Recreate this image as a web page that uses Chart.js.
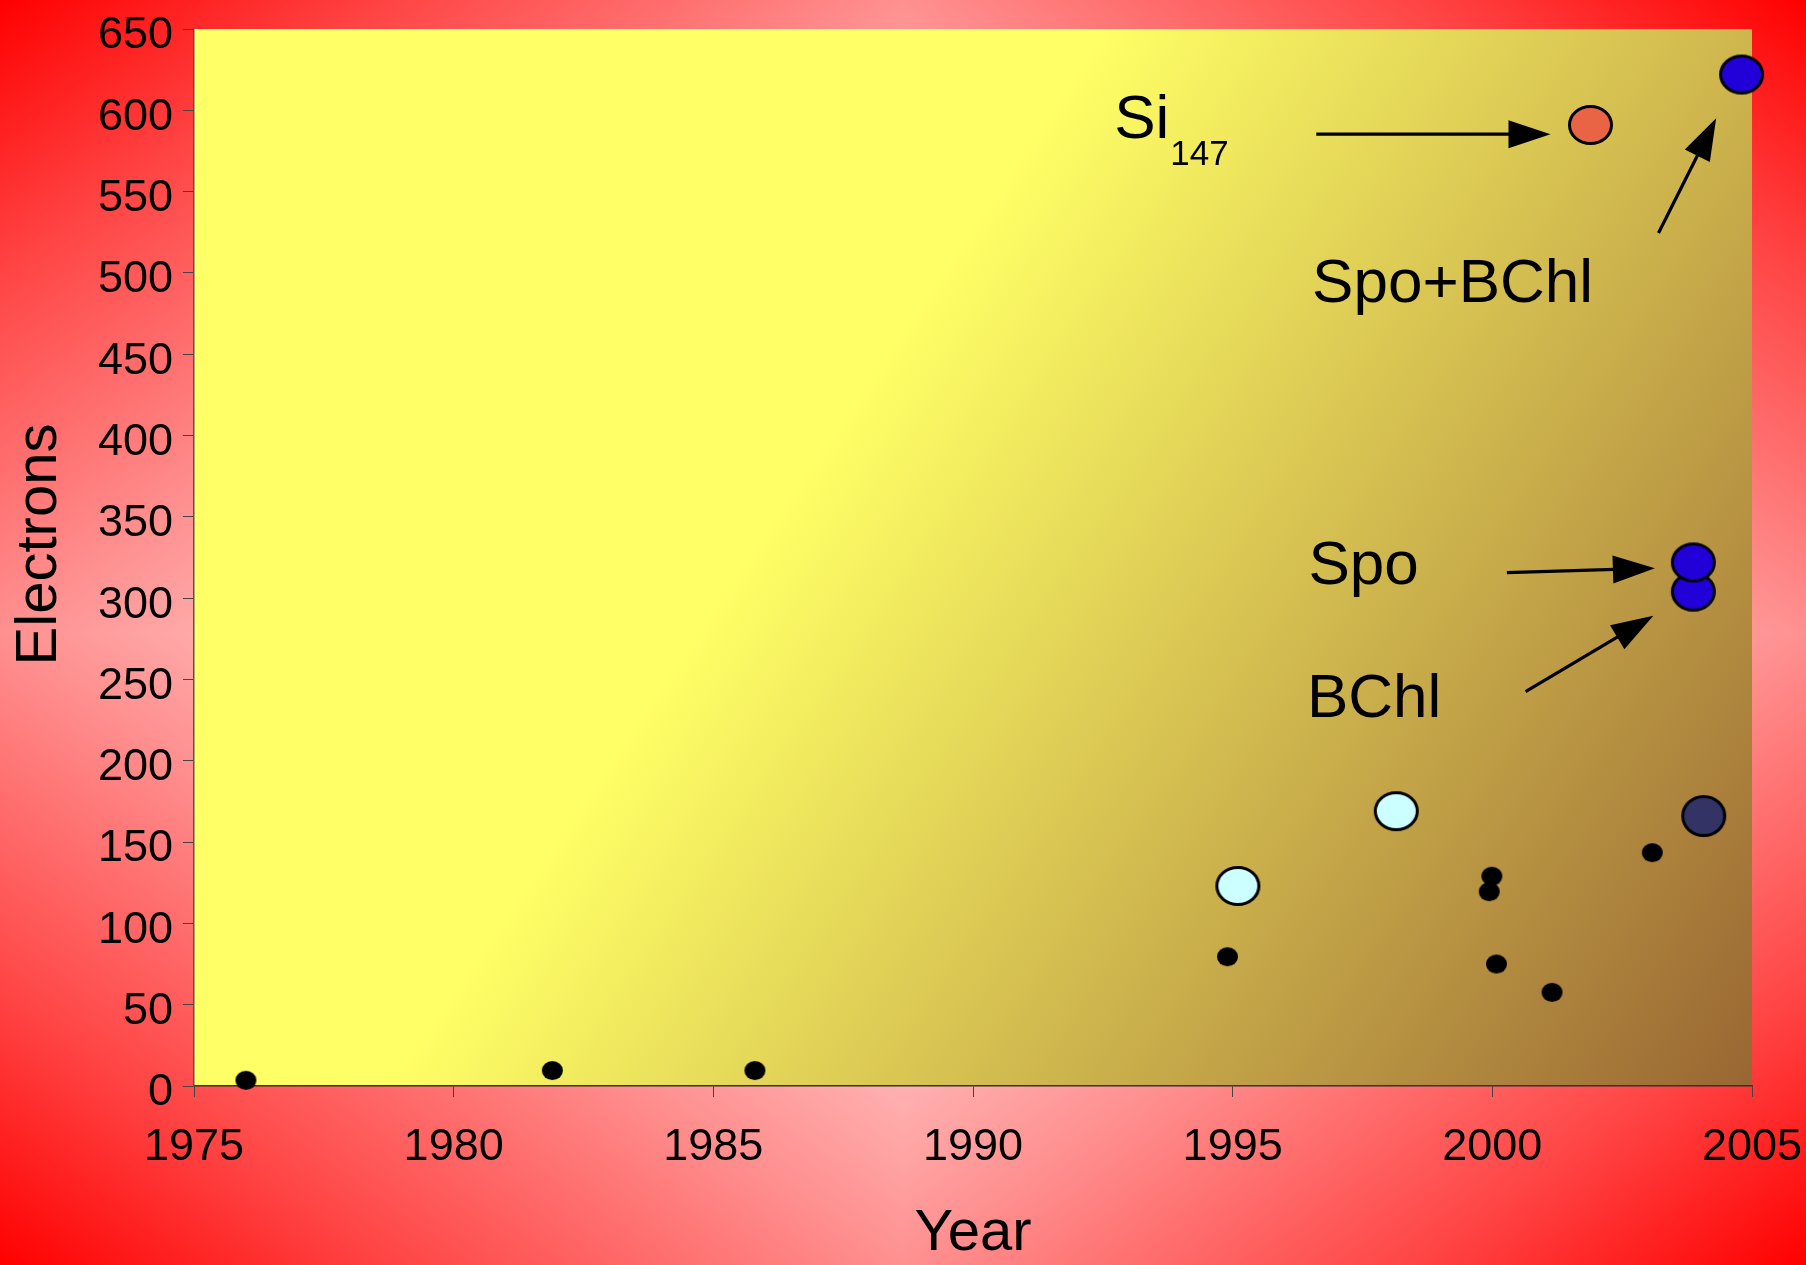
<!DOCTYPE html>
<html>
<head>
<meta charset="utf-8">
<title>Electrons vs Year</title>
<script src="https://cdn.jsdelivr.net/npm/chart.js@4.4.1/dist/chart.umd.min.js"></script>
<style>
  html, body { margin: 0; padding: 0; background: #ff0000; }
  canvas { display: block; }
</style>
</head>
<body>
<canvas id="chart" width="1806" height="1265"></canvas>
<script>
const FAMILY = '"Liberation Sans", Arial, Helvetica, sans-serif';

// Small calculations (black dots)
const smallYears     = [1976.0, 1981.9, 1985.8, 1994.9, 1999.99, 1999.94, 2000.08, 2001.15, 2003.08];
const smallElectrons = [3.5, 9.5, 9.5, 79.5, 129, 119.5, 75, 57.6, 143.5];

// Light cyan markers
const cyanYears     = [1995.1, 1998.15];
const cyanElectrons = [123, 169];

// Dark navy marker
const navyYears     = [2004.07];
const navyElectrons = [166];

// Blue markers: BChl, Spo, Spo+BChl
const blueYears     = [2003.87, 2003.87, 2004.8];
const blueElectrons = [304, 322, 622];

// Si147 cluster
const siYears     = [2001.89];
const siElectrons = [591];

// Axis ranges, tick steps and titles
const xRange = [1975, 2005];
const yRange = [0, 650];
const xStep = 5;
const yStep = 50;
const xTitle = 'Year';
const yTitle = 'Electrons';

// Text annotations (data coordinates of the text's left baseline)
const noteTexts = ['Si', '147', 'Spo+BChl', 'Spo', 'BChl'];
const noteYears = [1992.72, 1993.80, 1996.53, 1996.46, 1996.43];
const noteElectrons = [583, 566.4, 482.4, 308.7, 227.1];
const noteSizes = [62, 35, 62, 62, 62];

// Arrows: start (year, electrons) -> tip (year, electrons)
const arrowFromYears = [1996.61, 2003.20, 2000.28, 2000.64];
const arrowFromElectrons = [585.3, 524.6, 315.7, 242.5];
const arrowToYears = [2001.12, 2004.31, 2003.13, 2003.10];
const arrowToElectrons = [585.3, 595.1, 318.4, 289.2];

const toPoints = (xs, ys) => xs.map((x, i) => ({ x, y: ys[i] }));

function ellipseMarker(w, h, fill, stroke, lw) {
  const c = document.createElement('canvas');
  c.width = Math.ceil(w) + 2;
  c.height = Math.ceil(h) + 2;
  const g = c.getContext('2d');
  g.beginPath();
  g.ellipse(c.width / 2, c.height / 2, w / 2 - lw / 2, h / 2 - lw / 2, 0, 0, Math.PI * 2);
  g.fillStyle = fill;
  g.fill();
  if (lw > 0) {
    g.lineWidth = lw;
    g.strokeStyle = stroke;
    g.stroke();
  }
  return c;
}

const markers = {
  small: ellipseMarker(21, 19, '#000000', '#000000', 0),
  cyan: ellipseMarker(45, 40, '#ccffff', '#000000', 3),
  navy: ellipseMarker(45, 42, '#333366', '#000000', 3),
  blue: ellipseMarker(45, 40, '#2201d9', '#000000', 3),
  si: ellipseMarker(45, 40, '#e96444', '#000000', 3)
};

// Page backdrop (diamond red gradient) and plot-area gradient
const backdrop = {
  id: 'backdrop',
  beforeDraw(chart) {
    const { ctx, width, height, chartArea: a } = chart;
    ctx.save();
    const cx = Math.round(width / 2), cy = Math.round(height / 2);
    const W = cx, H = cy;
    const k = 1 / (1 / (W * W) + 1 / (H * H));
    const stops = [[0, '#ffc8c8'], [0.37, '#ffaeae'], [0.5, '#ff9090'], [0.78, '#ff4545'], [1, '#ff0000']];
    const quads = [[-1, -1, 0, 0, cx, cy], [1, -1, cx, 0, width - cx, cy],
                   [-1, 1, 0, cy, cx, height - cy], [1, 1, cx, cy, width - cx, height - cy]];
    for (const [sx, sy, rx, ry, rw, rh] of quads) {
      const vx = sx * k / W, vy = sy * k / H;
      const g = ctx.createLinearGradient(cx, cy, cx + 2 * vx, cy + 2 * vy);
      stops.forEach(([o, c]) => g.addColorStop(o, c));
      ctx.fillStyle = g;
      ctx.fillRect(rx, ry, rw, rh);
    }
    const pg = ctx.createLinearGradient(a.left, a.top, a.right, a.bottom);
    pg.addColorStop(0, '#ffff66');
    pg.addColorStop(0.4, '#ffff66');
    pg.addColorStop(1, '#996633');
    ctx.fillStyle = pg;
    ctx.fillRect(a.left, a.top, a.right - a.left, a.bottom - a.top);
    ctx.restore();
  }
};

// Labels, arrows and the vertical axis title
const notes = {
  id: 'notes',
  afterDatasetsDraw(chart) {
    const { ctx } = chart;
    const xs = chart.scales.x, ys = chart.scales.y;
    ctx.save();
    ctx.fillStyle = '#000';
    ctx.strokeStyle = '#000';
    ctx.textAlign = 'left';
    ctx.textBaseline = 'alphabetic';
    noteTexts.forEach((t, i) => {
      ctx.font = noteSizes[i] + 'px ' + FAMILY;
      ctx.fillText(t, xs.getPixelForValue(noteYears[i]), ys.getPixelForValue(noteElectrons[i]));
    });
    const headLen = 42, headHalf = 14;
    arrowFromYears.forEach((_, i) => {
      const x0 = xs.getPixelForValue(arrowFromYears[i]);
      const y0 = ys.getPixelForValue(arrowFromElectrons[i]);
      const x1 = xs.getPixelForValue(arrowToYears[i]);
      const y1 = ys.getPixelForValue(arrowToElectrons[i]);
      const ang = Math.atan2(y1 - y0, x1 - x0);
      const bx = x1 - headLen * Math.cos(ang), by = y1 - headLen * Math.sin(ang);
      ctx.lineWidth = 3.2;
      ctx.beginPath();
      ctx.moveTo(x0, y0);
      ctx.lineTo(bx + 2 * Math.cos(ang), by + 2 * Math.sin(ang));
      ctx.stroke();
      ctx.beginPath();
      ctx.moveTo(x1, y1);
      ctx.lineTo(bx - headHalf * Math.sin(ang), by + headHalf * Math.cos(ang));
      ctx.lineTo(bx + headHalf * Math.sin(ang), by - headHalf * Math.cos(ang));
      ctx.closePath();
      ctx.fill();
    });
    // vertical axis title, centred on 325 electrons less a small upward shift
    ctx.font = '58px ' + FAMILY;
    ctx.textAlign = 'center';
    ctx.textBaseline = 'middle';
    ctx.translate(40, ys.getPixelForValue(333));
    ctx.rotate(-Math.PI / 2);
    ctx.fillText(yTitle, 0, 0);
    ctx.restore();
  }
};

const tickFont = { family: FAMILY, size: 45 };
const titleFont = { family: FAMILY, size: 58, lineHeight: 1 };

new Chart(document.getElementById('chart'), {
  type: 'scatter',
  data: {
    datasets: [
      { label: 'small', data: toPoints(smallYears, smallElectrons), pointStyle: markers.small, pointRadius: 10, clip: false },
      { label: 'cyan', data: toPoints(cyanYears, cyanElectrons), pointStyle: markers.cyan, pointRadius: 22, clip: false },
      { label: 'navy', data: toPoints(navyYears, navyElectrons), pointStyle: markers.navy, pointRadius: 22, clip: false },
      { label: 'blue', data: toPoints(blueYears, blueElectrons), pointStyle: markers.blue, pointRadius: 22, clip: false },
      { label: 'Si147', data: toPoints(siYears, siElectrons), pointStyle: markers.si, pointRadius: 22, clip: false }
    ]
  },
  options: {
    responsive: false,
    devicePixelRatio: 1,
    animation: false,
    events: [],
    layout: { padding: { left: 0, top: 29, right: 54, bottom: 0 } },
    plugins: { legend: { display: false }, tooltip: { enabled: false } },
    scales: {
      x: {
        type: 'linear',
        min: xRange[0], max: xRange[1],
        ticks: { stepSize: xStep, callback: v => String(v), font: tickFont, color: '#000', padding: 24, maxRotation: 0, autoSkip: false },
        grid: { drawOnChartArea: false, drawTicks: true, tickLength: 11, color: '#444', lineWidth: 1 },
        border: { display: true, color: '#333', width: 1.5 },
        title: { display: true, text: xTitle, font: titleFont, color: '#000', padding: { top: 0, bottom: 2 } },
        afterFit(s) { s.height = 179; s.paddingLeft = 0; s.paddingRight = 0; }
      },
      y: {
        type: 'linear',
        min: yRange[0], max: yRange[1],
        ticks: { stepSize: yStep, font: tickFont, color: '#000', padding: 10, labelOffset: 7 },
        grid: { drawOnChartArea: false, drawTicks: true, tickLength: 11, color: '#444', lineWidth: 1 },
        border: { display: true, color: '#555', width: 1.5 },
        title: { display: false, text: yTitle },
        afterFit(s) { s.width = 194; s.paddingTop = 0; s.paddingBottom = 0; }
      }
    }
  },
  plugins: [backdrop, notes]
});
</script>
</body>
</html>
